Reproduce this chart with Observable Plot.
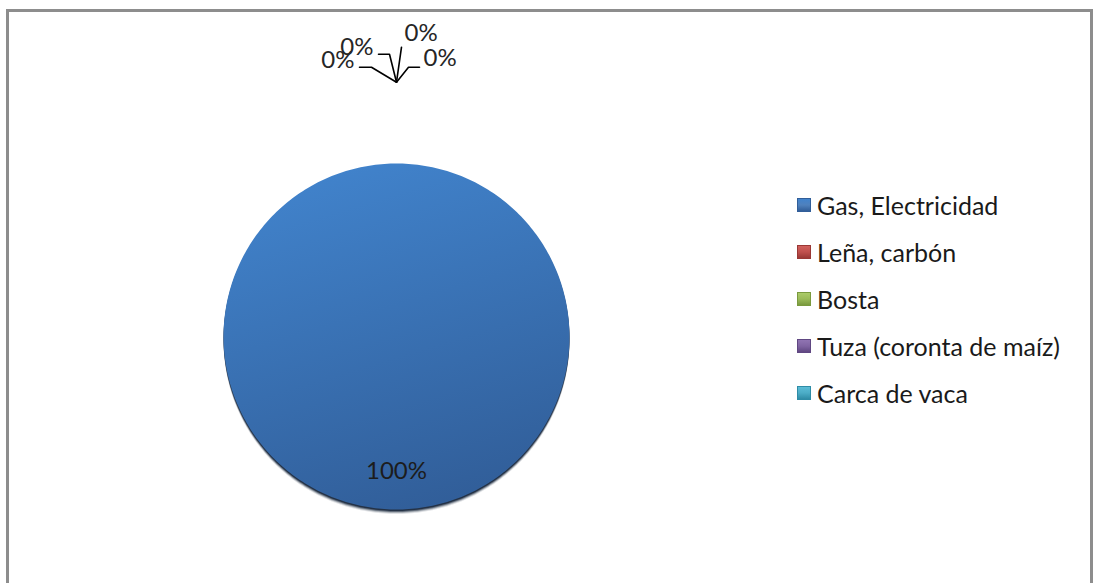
<!DOCTYPE html>
<html><head><meta charset="utf-8">
<script src="https://cdn.jsdelivr.net/npm/d3@7"></script>
<script src="https://cdn.jsdelivr.net/npm/@observablehq/plot@0.6"></script>
<style>
body{margin:0;background:#fff;font-family:Lato,"Open Sans",sans-serif;}
#wrap{position:relative;width:1093px;height:583px;overflow:hidden;background:#fff;}
#frame{position:absolute;left:6px;top:9px;width:1081px;height:620px;border:3px solid #8d8d8d;pointer-events:none;}
#legend{position:absolute;left:797px;top:181px;}
.row{height:47px;display:flex;align-items:center;font-size:25px;color:#1a1a1a;white-space:nowrap;}
.sw{width:14px;height:14px;margin-right:6px;box-sizing:border-box;}
</style></head><body><div id="wrap"><div id="chart"></div><div id="frame"></div><div id="legend"></div></div>
<script>
// ---- data ----
const categories = ["Gas, Electricidad", "Leña, carbón", "Bosta", "Tuza (coronta de maíz)", "Carca de vaca"];
const values = [100, 0, 0, 0, 0];
const labels = ["100%", "0%", "0%", "0%", "0%"];
const colors = ["#4f81bd", "#c0504d", "#9bbb59", "#8064a2", "#4bacc6"];
const lightColors = ["#4183cc", "#d0605d", "#abcb69", "#9074b2", "#5bbcd6"];
const darkColors = ["#315e99", "#9a3835", "#7a9a3e", "#604782", "#2f8ca6"];

// ---- layout ----
const cx = 396, cy = 336, R = 173;
const insideR = 0.78, outsideR = 1.47;
// shadow layers (dy px, opacity)
const shadowLayers = [[4.5, 0.12], [3.5, 0.25], [2.5, 0.45], [1.5, 0.7]];
// leader-line layout for tiny slices (pixel offsets from anchor)
const leaderLayout = [
  null,
  {elbow: [-25, -15], end: [-37, -15], dx: -42, dy: -22, anchor: "end"},
  {elbow: [-7, -28], end: [-18, -28], dx: -23, dy: -35, anchor: "end"},
  {elbow: [5, -35], end: [5, -35], dx: 8, dy: -49, anchor: "start"},
  {elbow: [12, -15], end: [23, -15], dx: 27, dy: -24, anchor: "start"}
];

const arcs = d3.pie().sort(null)(values);
const marks = [];
const slicePts = [];
arcs.forEach((s, i) => {
  if (s.endAngle > s.startAngle) {
    const pts = [{x: 0, y: 0}];
    const n = 360;
    for (let k = 0; k <= n; k++) {
      const a = s.startAngle + (s.endAngle - s.startAngle) * k / n;
      pts.push({x: Math.sin(a), y: Math.cos(a)});
    }
    pts.push({x: 0, y: 0});
    slicePts.push([i, pts]);
  }
});
// shadows
slicePts.forEach(([i, pts]) => shadowLayers.forEach(([dy, op]) =>
  marks.push(Plot.line(pts, {x: "x", y: "y", dy, fill: "#0a1a30", fillOpacity: op, stroke: "none", curve: "linear"}))));
// slices
slicePts.forEach(([i, pts]) =>
  marks.push(Plot.line(pts, {x: "x", y: "y", fill: `url(#g${i})`, stroke: "none", curve: "linear"})));

// labels
const inLabels = [], outLabels = [], leaders = [];
arcs.forEach((s, i) => {
  const mid = (s.startAngle + s.endAngle) / 2;
  if (s.endAngle - s.startAngle > 0.2) {
    inLabels.push({x: insideR * Math.sin(mid), y: insideR * Math.cos(mid), t: labels[i]});
  } else {
    const L = leaderLayout[i];
    const ax = outsideR * Math.sin(mid), ay = outsideR * Math.cos(mid);
    outLabels.push({x: ax, y: ay, t: labels[i], dx: L.dx, dy: L.dy, anchor: L.anchor});
    leaders.push([
      {x: ax, y: ay},
      {x: ax + L.elbow[0] / R, y: ay - L.elbow[1] / R},
      {x: ax + L.end[0] / R, y: ay - L.end[1] / R}
    ]);
  }
});
leaders.forEach(l => marks.push(Plot.line(l, {x: "x", y: "y", stroke: "#000", strokeWidth: 1.6, curve: "linear"})));
marks.push(Plot.text(inLabels, {x: "x", y: "y", text: "t", fontSize: 24, fill: "#1c1c1c", fontFamily: "Lato"}));
outLabels.forEach(d => marks.push(Plot.text([d], {x: "x", y: "y", text: "t", dx: d.dx, dy: d.dy, textAnchor: d.anchor, fontSize: 24, fill: "#262626", fontFamily: "Lato"})));

const chart = Plot.plot({
  width: 1093, height: 583, margin: 0,
  style: {background: "transparent", overflow: "visible"},
  x: {domain: [-1, 1], range: [cx - R, cx + R], axis: null},
  y: {domain: [-1, 1], range: [cy + R, cy - R], axis: null},
  marks
});
// gradients
const svg = d3.select(chart);
const defs = svg.insert("defs", ":first-child");
colors.forEach((c, i) => {
  const g = defs.append("linearGradient").attr("id", `g${i}`).attr("x1", "0.3").attr("y1", "0").attr("x2", "0.6").attr("y2", "1");
  g.append("stop").attr("offset", "0").attr("stop-color", lightColors[i]);
  g.append("stop").attr("offset", "1").attr("stop-color", darkColors[i]);
});
document.getElementById("chart").appendChild(chart);

// legend
const leg = d3.select("#legend");
categories.forEach((c, i) => {
  const r = leg.append("div").attr("class", "row");
  r.append("div").attr("class", "sw")
    .style("background", `linear-gradient(to bottom, ${lightColors[i]}, ${colors[i]} 50%, ${darkColors[i]})`)
    .style("border", `1px solid ${darkColors[i]}`);
  r.append("span").text(c);
});
</script></body></html>
